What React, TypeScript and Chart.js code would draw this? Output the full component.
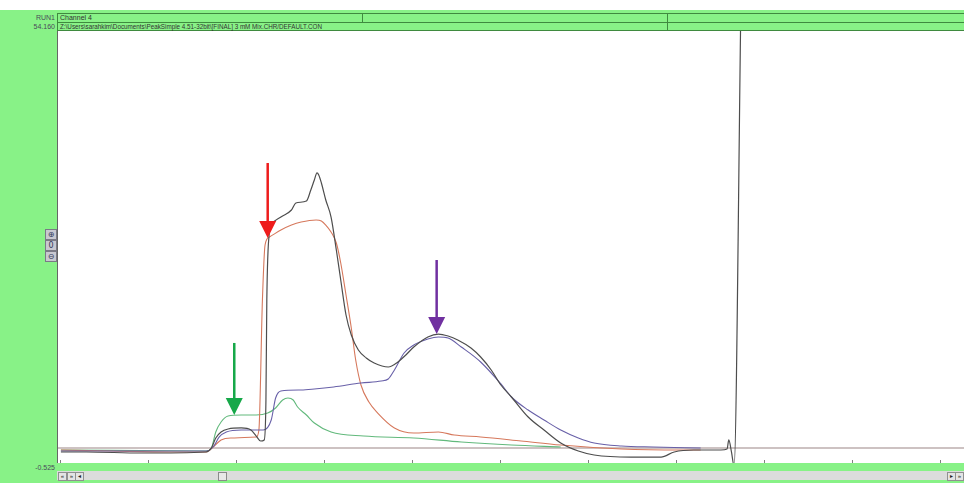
import React, { useEffect, useRef } from "react";
import { Chart, registerables } from "chart.js";

Chart.register(...registerables);

// ---- axis range (minutes / signal) ----
const Y_MIN = -0.525;
const Y_MAX = 54.16;
const X_MIN = -0.023;
const X_MAX = 10.284;
const BASELINE = 1.37;

// ---- traces: [time, signal] ----
const blackTrace: [number, number][] = [
  [0.01, 0.87], [0.3, 0.87], [0.92, 0.74], [1.66, 0.87], [1.72, 1.37], [1.77, 2.64], [1.83, 3.4],
  [1.91, 3.78], [2.06, 3.91], [2.17, 3.65], [2.23, 2.89], [2.28, 2.26], [2.32, 2.39], [2.34, 7.45],
  [2.35, 20.11], [2.38, 28.72], [2.4, 29.6], [2.51, 30.61], [2.63, 31.5], [2.68, 32.39], [2.8, 32.64],
  [2.85, 34.03], [2.89, 35.3], [2.92, 36.19], [2.94, 35.93], [2.97, 34.92], [3.02, 32.77], [3.08, 30.61],
  [3.14, 26.44], [3.19, 22.64], [3.25, 18.21], [3.31, 15.68], [3.39, 13.78], [3.48, 12.77], [3.57, 12.13],
  [3.73, 11.63], [3.84, 12.26], [3.93, 13.15], [4.02, 14.16], [4.18, 15.43], [4.3, 15.8], [4.41, 15.55],
  [4.52, 15.05], [4.67, 14.03], [4.78, 12.89], [4.9, 11.25], [5.01, 9.35], [5.13, 7.83], [5.32, 5.3],
  [5.5, 3.65], [5.69, 2.01], [5.89, 0.99], [6.07, 0.49], [6.49, 0.23], [6.83, 0.23], [6.98, 0.87],
  [7.2, 1.12], [7.51, 1.12], [7.58, 1.25], [7.6, 2.39], [7.63, 0.87], [7.66, -0.9], [7.74, 60],
];

const redTrace: [number, number][] = [
  [0.01, 1.12], [0.58, 0.99], [1.26, 0.87], [1.66, 0.87], [1.74, 1.5], [1.83, 2.39], [1.94, 2.64],
  [2.23, 2.77], [2.26, 3.65], [2.3, 20.11], [2.33, 27.07], [2.38, 28.08], [2.51, 28.97], [2.63, 29.6],
  [2.74, 29.98], [2.91, 30.24], [2.97, 30.11], [3.02, 29.6], [3.08, 28.72], [3.14, 27.32], [3.19, 24.79],
  [3.25, 20.74], [3.31, 16.56], [3.36, 12.51], [3.42, 9.35], [3.51, 7.2], [3.61, 5.8], [3.8, 3.91],
  [4.02, 3.27], [4.3, 3.4], [4.48, 3.02], [4.78, 2.77], [5.24, 2.26], [5.69, 1.75], [6.38, 1.25],
  [7.06, 1.12], [7.28, 1.12],
];

const purpleTrace: [number, number][] = [
  [0.01, 0.99], [1.66, 0.99], [1.74, 1.5], [1.81, 2.77], [1.89, 3.4], [2.06, 3.65], [2.31, 3.65],
  [2.4, 4.92], [2.45, 7.7], [2.51, 8.59], [2.74, 8.72], [2.89, 8.84], [3.11, 9.1], [3.42, 9.6],
  [3.65, 9.85], [3.73, 10.11], [3.8, 11.25], [3.91, 13.4], [4.02, 14.41], [4.18, 15.17], [4.3, 15.43],
  [4.41, 15.3], [4.56, 14.16], [4.78, 12.26], [5.01, 9.48], [5.13, 7.83], [5.32, 6.18], [5.5, 4.92],
  [5.69, 3.65], [5.89, 2.64], [6.07, 2.01], [6.38, 1.63], [6.74, 1.5], [7.28, 1.37],
];

const greenTrace: [number, number][] = [
  [0.01, 1.12], [1.66, 0.99], [1.72, 1.37], [1.77, 3.4], [1.83, 4.66], [1.91, 5.42], [2.06, 5.55],
  [2.23, 5.55], [2.36, 5.8], [2.45, 6.44], [2.53, 7.45], [2.59, 7.7], [2.65, 7.45], [2.7, 6.56],
  [2.8, 5.55], [2.89, 4.54], [3.08, 3.4], [3.45, 2.89], [4.02, 2.64], [4.56, 2.13], [5.13, 1.75],
  [5.69, 1.5],
];

// ---- annotation arrows ----
const arrowX = [1.98, 2.36, 4.28];
const arrowTipY = [5.55, 27.96, 15.8];
const arrowTopY = [14.67, 37.45, 25.17];
const arrowColors = ["#16a849", "#ee1c1c", "#7030a0"];

// ---- header texts ----
const runLabel = "RUN1";
const channelLabel = "Channel 4";
const pathLabel = "Z:\\Users\\sarahkim\\Documents\\PeakSimple 4.51-32bit\\[FINAL] 3 mM Mix.CHR/DEFAULT.CON";

const toPoints = (arr: [number, number][]) => arr.map(([x, y]) => ({ x, y }));

const overlayPlugin = {
  id: "overlay",
  afterDatasetsDraw(chart: any) {
    const { ctx, chartArea, scales } = chart;
    const xs = scales.x;
    const ys = scales.y;
    ctx.save();
    ctx.strokeStyle = "#808080";
    ctx.lineWidth = 1;
    for (let t = Math.ceil(X_MIN); t <= X_MAX; t++) {
      const px = Math.round(xs.getPixelForValue(t)) + 0.5;
      ctx.beginPath();
      ctx.moveTo(px, chartArea.bottom - 3);
      ctx.lineTo(px, chartArea.bottom);
      ctx.stroke();
    }
    arrowX.forEach((ax, i) => {
      const px = xs.getPixelForValue(ax);
      const tip = ys.getPixelForValue(arrowTipY[i]);
      const top = ys.getPixelForValue(arrowTopY[i]);
      ctx.strokeStyle = arrowColors[i];
      ctx.fillStyle = arrowColors[i];
      ctx.lineWidth = 2.5;
      ctx.beginPath();
      ctx.moveTo(px, top);
      ctx.lineTo(px, tip - 14);
      ctx.stroke();
      ctx.beginPath();
      ctx.moveTo(px - 8.5, tip - 17);
      ctx.lineTo(px + 8.5, tip - 17);
      ctx.lineTo(px, tip);
      ctx.closePath();
      ctx.fill();
    });
    ctx.restore();
  },
};

const font = "'Liberation Sans', Arial, sans-serif";

function Btn({ left, glyph }: { left: number; glyph: string }) {
  return (
    <div
      style={{
        position: "absolute", left, top: 472, width: 7, height: 7,
        background: "#e4e4e4", border: "1px solid #909090", fontSize: 6, lineHeight: "7px",
        textAlign: "center", color: "#222", fontFamily: font,
      }}
    >
      {glyph}
    </div>
  );
}

function ZoomBtn({ top, glyph }: { top: number; glyph: string }) {
  return (
    <div
      style={{
        position: "absolute", left: 45, top, width: 10, height: 9,
        background: "#c8c8d0", border: "1px solid #7a7a86", fontSize: 8, lineHeight: "9px",
        textAlign: "center", color: "#333a5a", fontFamily: "'DejaVu Sans', sans-serif",
      }}
    >
      {glyph}
    </div>
  );
}

export default function App() {
  const canvasRef = useRef<HTMLCanvasElement | null>(null);

  useEffect(() => {
    if (!canvasRef.current) return;
    const line = (data: [number, number][], color: string, width = 1.1) => ({
      data: toPoints(data),
      borderColor: color,
      backgroundColor: color,
      borderWidth: width,
      pointRadius: 0,
      fill: false,
      cubicInterpolationMode: "monotone" as const,
    });
    const chart = new Chart(canvasRef.current, {
      type: "line",
      data: {
        datasets: [
          line(blackTrace, "#4d4d4d", 1.2),
          line(purpleTrace, "#6860a8"),
          line(redTrace, "#d6785c"),
          line(greenTrace, "#62b97c"),
          line([[X_MIN, BASELINE], [X_MAX, BASELINE]], "#bcaeae", 1.6),
        ],
      },
      options: {
        animation: false,
        responsive: true,
        maintainAspectRatio: false,
        devicePixelRatio: 1,
        layout: { padding: 0 },
        plugins: { legend: { display: false }, tooltip: { enabled: false } },
        events: [],
        scales: {
          x: { type: "linear", min: X_MIN, max: X_MAX, display: false },
          y: { type: "linear", min: Y_MIN, max: Y_MAX, display: false },
        },
      },
      plugins: [overlayPlugin],
    });
    return () => chart.destroy();
  }, []);

  const hdrLine = "#3f8a3f";
  return (
    <div style={{ position: "fixed", left: 0, top: 0, width: 964, height: 483, background: "#ffffff", overflow: "hidden", fontFamily: font }}>
      <div style={{ position: "absolute", left: 0, top: 10, width: 964, height: 473, background: "#88f287" }} />
      {/* header rows */}
      <div style={{ position: "absolute", left: 57, top: 13, width: 907, height: 8, borderTop: `1px solid ${hdrLine}`, borderBottom: `1px solid ${hdrLine}`, borderLeft: `1px solid ${hdrLine}` }} />
      <div style={{ position: "absolute", left: 57, top: 22, width: 907, height: 8, borderBottom: `1px solid ${hdrLine}`, borderLeft: `1px solid ${hdrLine}` }} />
      <div style={{ position: "absolute", left: 362, top: 13, width: 1, height: 9, background: hdrLine }} />
      <div style={{ position: "absolute", left: 667, top: 13, width: 1, height: 18, background: hdrLine }} />
      <div style={{ position: "absolute", left: 60, top: 13, fontSize: 7, lineHeight: "9px", color: "#333" }}>{channelLabel}</div>
      <div style={{ position: "absolute", left: 60, top: 22, fontSize: 6.3, lineHeight: "9px", color: "#333", whiteSpace: "nowrap" }}>{pathLabel}</div>
      <div style={{ position: "absolute", right: 964 - 55, top: 13, fontSize: 7, lineHeight: "9px", color: "#4a4a5a" }}>{runLabel}</div>
      <div style={{ position: "absolute", right: 964 - 55, top: 22, fontSize: 7, lineHeight: "9px", color: "#4a4a5a" }}>{Y_MAX.toFixed(3)}</div>
      <div style={{ position: "absolute", right: 964 - 55, top: 463, fontSize: 7, lineHeight: "9px", color: "#4a4a5a" }}>{Y_MIN.toFixed(3)}</div>
      {/* zoom buttons */}
      <ZoomBtn top={229} glyph="⊕" />
      <ZoomBtn top={240} glyph="0" />
      <ZoomBtn top={251} glyph="⊖" />
      {/* plot */}
      <div style={{ position: "absolute", left: 57, top: 31, width: 907, height: 432, background: "#fff", borderLeft: "1px solid #666" }}>
        <canvas ref={canvasRef} />
      </div>
      {/* scrollbar */}
      <div style={{ position: "absolute", left: 57, top: 471, width: 907, height: 9, background: "#dcdcdc" }} />
      <Btn left={58} glyph="«" />
      <Btn left={67} glyph="»" />
      <Btn left={75} glyph="◂" />
      <div style={{ position: "absolute", left: 218, top: 472, width: 7, height: 7, background: "#e8e8e8", border: "1px solid #8a8a8a" }} />
      <Btn left={947} glyph="▸" />
      <Btn left={955} glyph="»" />
    </div>
  );
}
